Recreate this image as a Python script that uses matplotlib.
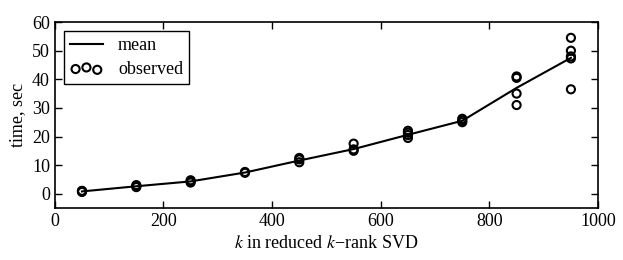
import numpy as np
import matplotlib
matplotlib.use('Agg')
import matplotlib.pyplot as plt

plt.rcParams['font.family'] = ['Liberation Serif', 'DejaVu Serif']
plt.rcParams['mathtext.fontset'] = 'stix'
plt.rcParams['font.size'] = 13

# значения k и средние времена
k_vals = [50, 150, 250, 350, 450, 550, 650, 750, 850, 950]
mean_time = [0.8, 2.6, 4.3, 7.4, 11.6, 15.6, 20.6, 25.5, 37.0, 47.5]

# наблюдения (k, время)
obs_k = [50, 50, 50,
         150, 150, 150,
         250, 250, 250,
         350, 350,
         450, 450, 450,
         550, 550, 550,
         650, 650, 650, 650,
         750, 750, 750,
         850, 850, 850, 850,
         950, 950, 950, 950, 950]
obs_t = [0.6, 0.9, 1.0,
         2.3, 2.7, 3.0,
         3.9, 4.3, 4.7,
         7.3, 7.6,
         11.0, 12.0, 12.5,
         15.0, 15.5, 17.5,
         19.5, 20.5, 21.3, 22.0,
         25.0, 25.6, 26.2,
         41.0, 40.5, 35.0, 31.0,
         54.5, 50.0, 48.0, 47.3, 36.5]

fig, ax = plt.subplots(figsize=(6.23, 2.6), dpi=100)
fig.subplots_adjust(left=0.088, right=0.96, top=0.915, bottom=0.2)

ax.plot(k_vals, mean_time, 'k-', linewidth=1.5, label='mean')
ax.scatter(obs_k, obs_t, s=34, facecolors='none', edgecolors='k',
           linewidths=1.5, label='observed')

ax.set_xlim(0, 1000)
ax.set_ylim(-5, 60)
ax.set_xticks([0, 200, 400, 600, 800, 1000])
ax.set_yticks([0, 10, 20, 30, 40, 50, 60])
ax.tick_params(direction='in', top=True, right=True, length=5, width=1)
for sp in ax.spines.values():
    sp.set_linewidth(1.2)

ax.set_xlabel('$k$ in reduced $k$\u2212rank SVD')
ax.set_ylabel('time, sec')

leg = ax.legend(loc='upper left', fancybox=False, edgecolor='k',
                framealpha=1, handlelength=1.8, handletextpad=0.85,
                borderpad=0.35, labelspacing=0.35, scatterpoints=3,
                borderaxespad=0.5)
leg.get_frame().set_linewidth(1.0)

fig.savefig('out.png', dpi=100)
